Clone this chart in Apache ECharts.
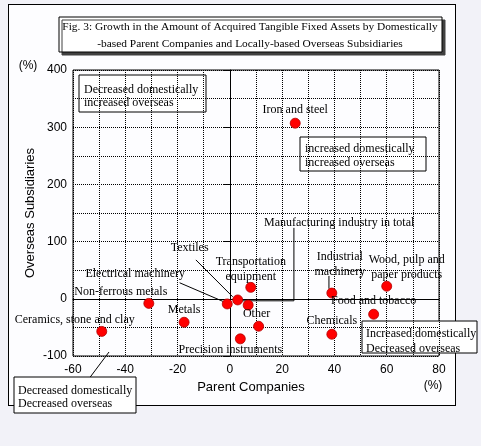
<!DOCTYPE html>
<html>
<head>
<meta charset="utf-8">
<title>Fig. 3</title>
<script src="https://cdn.jsdelivr.net/npm/echarts@6/dist/echarts.min.js"></script>
<style>
  body { margin: 0; background: #f2f2f8; }
  #wrap { position: relative; width: 481px; height: 446px; }
  #frame { position: absolute; left: 8px; top: 4px; width: 446px; height: 400px; border: 1px solid #000; background: #fdfdff; }
  #main { position: absolute; left: 0; top: 0; width: 481px; height: 446px; }
</style>
</head>
<body>
<div id="wrap">
  <div id="frame"></div>
  <div id="main"></div>
</div>
<script>
// industries
var names = ['Iron and steel', 'Non-ferrous metals', 'Ceramics, stone and clay', 'Metals',
  'Electrical machinery', 'Textiles', 'Precision instruments', 'Transportation\nequipment',
  'Other', 'Manufacturing industry in total', 'Industrial\nmachinery',
  'Wood, pulp and\npaper products', 'Food and tobacco', 'Chemicals'];
// growth of parent companies (%)
var parentGrowth = [25, -31, -49, -17.5, -1, 3, 4, 8, 11, 7, 39, 60, 55, 39];
// growth of overseas subsidiaries (%)
var overseasGrowth = [307, -8, -57, -41, -9, -2, -70, 20, -48, -11, 10, 22, -27, -62];
var xTicks = [-60, -40, -20, 0, 20, 40, 60, 80];
var yTicks = [-100, 0, 100, 200, 300, 400];

// label placement relative to the point (px)
var labelOffsets = {
  'Iron and steel': [0, -13],
  'Non-ferrous metals': [-28, -12],
  'Ceramics, stone and clay': [-27, -12],
  'Metals': [0, -12],
  'Electrical machinery': [-92, -30],
  'Textiles': [-48, -52],
  'Precision instruments': [-10, 11],
  'Transportation\nequipment': [0, -18],
  'Other': [-2, -12],
  'Manufacturing industry in total': [91, -82],
  'Industrial\nmachinery': [8, -29],
  'Wood, pulp and\npaper products': [20, -19],
  'Food and tobacco': [0, -13],
  'Chemicals': [0, -13]
};

// leader lines (data coordinates)
var leaders = [
  [[-13, 68], [1.1, 3.5]],
  [[-19.2, 28], [-2.3, -5.2]],
  [[24.5, 124], [24.5, -3.5], [4, -3.5]],
  [[37.9, 40], [37.9, 17.5]]
];

var serif = '"Liberation Serif", "DejaVu Serif", serif';
var sans = '"Liberation Sans", Arial, sans-serif';

var myChart = echarts.init(document.getElementById('main'));

var pts = [];
for (var i = 0; i < names.length; i++) {
  pts.push({
    value: [parentGrowth[i], overseasGrowth[i]],
    name: names[i],
    label: { offset: labelOffsets[names[i]] }
  });
}

var series = [{
  type: 'scatter',
  data: pts,
  symbol: 'circle',
  symbolSize: 10,
  itemStyle: { color: '#ff0000', borderColor: '#b00000', borderWidth: 0.8, opacity: 1 },
  label: {
    show: true,
    position: 'inside',
    formatter: function (p) { return p.name; },
    color: '#000',
    fontFamily: serif,
    fontSize: 12,
    lineHeight: 15
  },
  z: 5,
  markLine: {
    silent: true,
    symbol: 'none',
    label: { show: false },
    lineStyle: { color: '#000', type: 'solid', width: 1 },
    data: [{ xAxis: 0 }, { yAxis: 0 }],
    animation: false
  }
}];

leaders.forEach(function (l) {
  series.push({
    type: 'line',
    data: l,
    symbol: 'none',
    clip: false,
    lineStyle: { color: '#000', width: 1 },
    silent: true,
    z: 3
  });
});

function box(x, y, w, h, tx, ty, lh, text) {
  return {
    type: 'group',
    children: [
      { type: 'rect', shape: { x: x, y: y, width: w, height: h },
        style: { fill: '#fff', stroke: '#000', lineWidth: 1 } },
      { type: 'text', x: tx, y: ty,
        style: { text: text, font: '12px ' + serif, fill: '#000', lineHeight: lh,
          textVerticalAlign: 'top' } }
    ]
  };
}

var option = {
  animation: false,
  grid: { left: 73, right: 42, top: 70, bottom: 90, show: true, borderColor: '#000', borderWidth: 1 },
  xAxis: {
    type: 'value', min: -60, max: 80, interval: 20,
    name: 'Parent Companies', nameLocation: 'middle', nameGap: 24,
    nameTextStyle: { fontFamily: sans, fontSize: 13, color: '#000', padding: [0, 10, 0, 0] },
    axisLine: { show: true, lineStyle: { color: '#000' } },
    axisTick: { show: false },
    axisLabel: { color: '#000', fontFamily: sans, fontSize: 12, margin: 8,
      formatter: function (v) { return xTicks.indexOf(v) >= 0 ? v : ''; } },
    splitLine: { show: true, lineStyle: { color: '#000', type: 'dotted', width: 1 } },
    minorTick: { show: false, splitNumber: 2 },
    minorSplitLine: { show: true, lineStyle: { color: '#000', type: 'dotted', width: 1 } }
  },
  yAxis: {
    type: 'value', min: -100, max: 400, interval: 100,
    name: 'Overseas Subsidiaries', nameLocation: 'middle', nameGap: 36, nameRotate: 90,
    nameMoveOverlap: false,
    nameTextStyle: { fontFamily: sans, fontSize: 13, color: '#000' },
    axisLine: { show: true, lineStyle: { color: '#000' } },
    axisTick: { show: true, inside: false, length: 6, lineStyle: { color: '#000' } },
    axisLabel: { color: '#000', fontFamily: sans, fontSize: 12, margin: 6,
      formatter: function (v) { return yTicks.indexOf(v) >= 0 ? v : ''; } },
    splitLine: { show: true, lineStyle: { color: '#000', type: 'dotted', width: 1 } },
    minorTick: { show: false, splitNumber: 2 },
    minorSplitLine: { show: true, lineStyle: { color: '#000', type: 'dotted', width: 1 } }
  },
  graphic: [
    { type: 'rect', shape: { x: 59, y: 17, width: 383, height: 35 },
      style: { fill: '#fff', stroke: '#000', lineWidth: 1, shadowColor: '#404040',
        shadowOffsetX: 3, shadowOffsetY: 3, shadowBlur: 0 } },
    { type: 'text', x: 250, y: 19,
      style: { text: 'Fig. 3: Growth in the Amount of Acquired Tangible Fixed Assets by Domestically\n-based Parent Companies and Locally-based Overseas Subsidiaries',
        font: '11.4px ' + serif, fill: '#000', textAlign: 'center', textVerticalAlign: 'top', lineHeight: 17 } },
    { type: 'text', x: 28, y: 66, style: { text: '(%)', font: '12px ' + sans, fill: '#000',
        textAlign: 'center', textVerticalAlign: 'middle' } },
    { type: 'text', x: 433, y: 386, style: { text: '(%)', font: '12px ' + sans, fill: '#000',
        textAlign: 'center', textVerticalAlign: 'middle' } },
    box(79, 75, 127, 37, 84, 83, 13, 'Decreased domestically\nincreased overseas'),
    box(300, 137, 126, 34, 305, 142, 14, 'increased domestically\nincreased overseas'),
    box(362, 321, 115, 32, 366, 326, 15, 'Increased domestically\nDecreased overseas'),
    { type: 'line', shape: { x1: 85, y1: 384, x2: 109, y2: 352 },
      style: { stroke: '#000', lineWidth: 1 } },
    box(14, 377, 122, 36, 18, 384, 13, 'Decreased domestically\nDecreased overseas')
  ],
  series: series
};

myChart.setOption(option);
</script>
</body>
</html>
